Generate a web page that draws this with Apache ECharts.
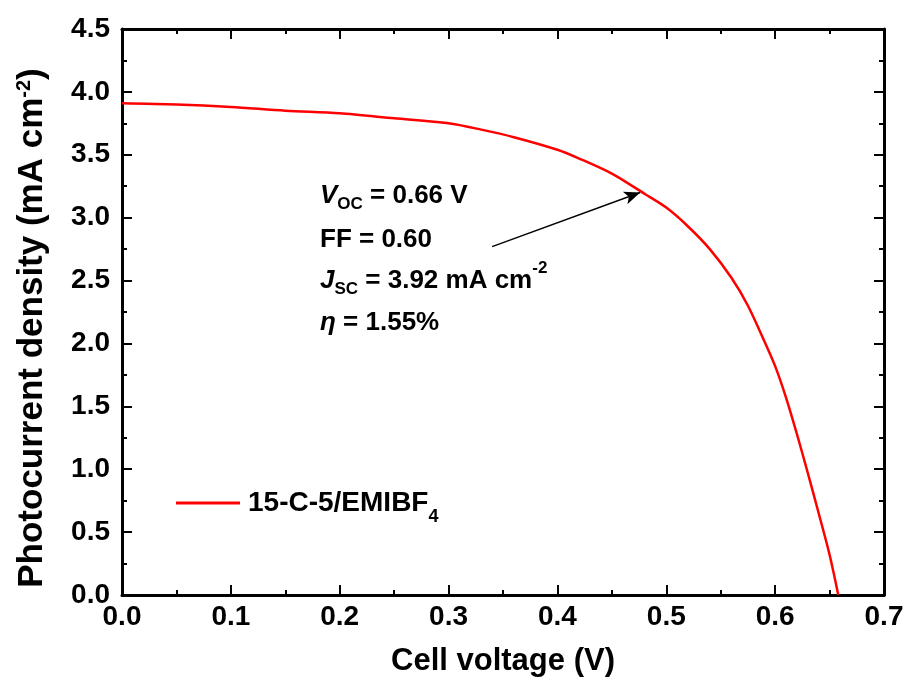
<!DOCTYPE html>
<html>
<head>
    <meta charset="utf-8" />
    <title>J-V curve</title>
    <script src="https://cdn.jsdelivr.net/npm/echarts@6/dist/echarts.min.js"></script>
    <style>
        body { margin: 0; background: #fff; }
        #chart { width: 908px; height: 684px; }
    </style>
</head>
<body>
    <div id="chart"></div>
    <script type="text/javascript">
        // values
        var voltage = [0, 0.05, 0.1, 0.15, 0.2, 0.25, 0.3, 0.33, 0.36, 0.4, 0.42, 0.45, 0.48, 0.5,
            0.52, 0.54, 0.56, 0.575, 0.59, 0.6, 0.61, 0.62, 0.63, 0.64, 0.65, 0.658];
        var current = [3.91, 3.90, 3.88, 3.85, 3.83, 3.79, 3.75, 3.70, 3.64, 3.54, 3.47, 3.35, 3.19, 3.08,
            2.93, 2.75, 2.52, 2.30, 2.02, 1.82, 1.57, 1.28, 0.97, 0.65, 0.32, 0.0];
        var seriesName = '15-C-5/EMIBF';
        var arrowFrom = [0.340, 2.77];
        var arrowTo = [0.476, 3.20];
        var notes = [
            '{i|V}{sub|OC}{b| = 0.66 V}',
            '{b|FF = 0.60}',
            '{i|J}{sub|SC}{b| = 3.92 mA cm}{sup|-2}',
            '{i|η}{b| = 1.55%}'
        ];
        var noteTops = [183, 227, 260, 310];

        var font = 'Liberation Sans, Arial, sans-serif';
        var noteRich = {
            b: { fontFamily: font, fontWeight: 'bold', fontSize: 26, lineHeight: 34, verticalAlign: 'bottom' },
            i: { fontFamily: font, fontWeight: 'bold', fontStyle: 'italic', fontSize: 26, lineHeight: 34, verticalAlign: 'bottom' },
            sub: { fontFamily: font, fontWeight: 'bold', fontSize: 17, lineHeight: 20, verticalAlign: 'bottom', padding: [0, 0, -4, 0] },
            sup: { fontFamily: font, fontWeight: 'bold', fontSize: 17, lineHeight: 20, verticalAlign: 'top' }
        };

        var points = voltage.map(function (v, i) { return [v, current[i]]; });

        function frameAxis(extra) {
            var a = {
                type: 'value',
                axisLine: { show: true, onZero: false, lineStyle: { color: '#000', width: 3 } },
                axisTick: { show: true, inside: true, length: 10, lineStyle: { color: '#000', width: 2 } },
                minorTick: { show: true, splitNumber: 2, length: 5, lineStyle: { color: '#000', width: 2 } },
                splitLine: { show: false }
            };
            for (var k in extra) a[k] = extra[k];
            return a;
        }

        var chart = echarts.init(document.getElementById('chart'));
        chart.setOption({
            animation: false,
            grid: { left: 122, right: 24, top: 29, bottom: 89 },
            legend: {
                left: 171,
                top: 481,
                itemWidth: 64,
                itemHeight: 3,
                data: [{ name: seriesName, icon: 'rect' }],
                formatter: function (n) { return n + '{sub|4}'; },
                textStyle: {
                    fontFamily: font, fontWeight: 'bold', fontSize: 28, color: '#000', lineHeight: 34,
                    padding: [0, 0, 0, 3],
                    rich: {
                        sub: { fontFamily: font, fontWeight: 'bold', fontSize: 18, lineHeight: 20, verticalAlign: 'bottom', padding: [0, 0, -6, 0] }
                    }
                }
            },
            xAxis: [
                frameAxis({
                    min: 0, max: 0.7, interval: 0.1,
                    name: 'Cell voltage (V)',
                    nameLocation: 'middle',
                    nameGap: 51,
                    nameTextStyle: { fontFamily: font, fontWeight: 'bold', fontSize: 31, color: '#000', verticalAlign: 'top' },
                    axisLabel: {
                        margin: 8, color: '#000', fontFamily: font, fontWeight: 'bold', fontSize: 28,
                        formatter: function (v) { return v.toFixed(1); }
                    }
                }),
                frameAxis({ min: 0, max: 0.7, interval: 0.1, position: 'top', axisLabel: { show: false } })
            ],
            yAxis: [
                frameAxis({
                    min: 0, max: 4.5, interval: 0.5,
                    name: 'Photocurrent density (mA cm{sup|-2})',
                    nameLocation: 'middle',
                    nameRotate: 90,
                    nameGap: 72,
                    nameTextStyle: {
                        fontFamily: font, fontWeight: 'bold', fontSize: 35, color: '#000', lineHeight: 36,
                        padding: [0, 32, 0, 0],
                        rich: {
                            sup: { fontFamily: font, fontWeight: 'bold', fontSize: 20, lineHeight: 36, verticalAlign: 'top', padding: [0, 0, 10, 0] }
                        }
                    },
                    axisLabel: {
                        margin: 12, color: '#000', fontFamily: font, fontWeight: 'bold', fontSize: 28,
                        formatter: function (v) { return v.toFixed(1); }
                    }
                }),
                frameAxis({ min: 0, max: 4.5, interval: 0.5, position: 'right', axisLabel: { show: false } })
            ],
            series: [{
                name: seriesName,
                type: 'line',
                xAxisIndex: 0,
                yAxisIndex: 0,
                data: points,
                symbol: 'none',
                smooth: 0.3,
                lineStyle: { color: '#ff0000', width: 2.5 },
                itemStyle: { color: '#ff0000' },
                markLine: {
                    silent: true,
                    symbol: ['none', 'arrow'],
                    symbolSize: [10, 16],
                    label: { show: false },
                    lineStyle: { color: '#000', width: 1.5, type: 'solid' },
                    data: [[{ coord: arrowFrom }, { coord: arrowTo }]]
                }
            }],
            graphic: notes.map(function (t, i) {
                return {
                    type: 'text',
                    left: 320,
                    top: noteTops[i],
                    style: { text: t, rich: noteRich, fill: '#000' }
                };
            })
        });
    </script>
</body>
</html>
